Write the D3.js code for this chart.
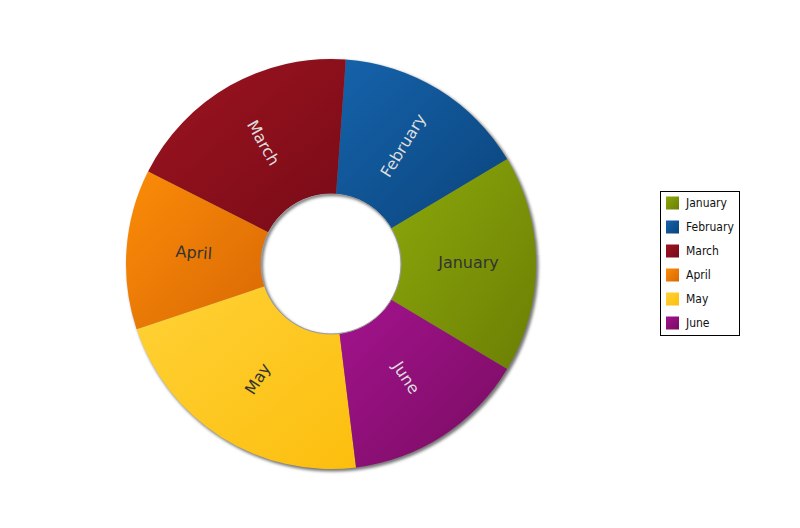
<!DOCTYPE html>
<html><head><meta charset="utf-8">
<script src="https://cdn.jsdelivr.net/npm/d3@7"></script>
<style>body{margin:0;background:#fff}svg{display:block}</style>
</head><body>
<svg id="c" width="800" height="528"></svg>
<script>
const categories = ["January","February","March","April","May","June"];
const values = [17.1, 15.3, 18.7, 12.6, 21.8, 14.5];
const colorsLight = ["#8ca80b","#1563ab","#9c1420","#fb8c07","#ffd236","#a3138e"];
const colorsDark  = ["#6b7f04","#0b447c","#780b17","#d96805","#fcbe0e","#780c60"];
const labelColors = ["#333","#ddd","#ddd","#333","#333","#ddd"];

const svg = d3.select("#c");
const cx = 331, cy = 264, rOut = 205, rIn = 70;
const defs = svg.append("defs");
categories.forEach((c,i)=>{
  const g = defs.append("linearGradient").attr("id","g"+i)
    .attr("x1","0").attr("y1","0").attr("x2","1").attr("y2","1");
  g.append("stop").attr("offset","0").attr("stop-color",colorsLight[i]);
  g.append("stop").attr("offset","1").attr("stop-color",colorsDark[i]);
});
const f = defs.append("filter").attr("id","sh").attr("x","-10%").attr("y","-10%").attr("width","120%").attr("height","120%");
f.append("feGaussianBlur").attr("stdDeviation",1.5);
const fi = defs.append("filter").attr("id","shi").attr("x","-20%").attr("y","-20%").attr("width","140%").attr("height","140%");
fi.append("feGaussianBlur").attr("stdDeviation",1.5);

const total = d3.sum(values);
const janSpan = values[0]/total*2*Math.PI;
const start = Math.PI/2 + janSpan/2;
const pie = d3.pie().sort(null).value(d=>d).startAngle(start).endAngle(start - 2*Math.PI);
const arcs = pie(values);
const arc = d3.arc().innerRadius(rIn).outerRadius(rOut);

const g = svg.append("g").attr("transform",`translate(${cx},${cy})`);
// outer shadow
g.append("circle").attr("cx",2).attr("cy",2).attr("r",rOut+0.5)
  .attr("fill","#777").attr("filter","url(#sh)");
g.selectAll("path.s").data(arcs).enter().append("path").attr("class","s")
  .attr("d",arc).attr("fill",(d,i)=>`url(#g${i})`);
// hole
g.append("circle").attr("r",rIn).attr("fill","#fff");
const clipId = "hc";
defs.append("clipPath").attr("id",clipId).append("circle").attr("r",rIn);
g.append("circle").attr("r",rIn+1.5).attr("cx",1.5).attr("cy",1.5).attr("fill","none")
  .attr("stroke","#777").attr("stroke-width",4).attr("filter","url(#shi)").attr("clip-path",`url(#${clipId})`);
g.append("circle").attr("r",rIn).attr("fill","none").attr("stroke","#999").attr("stroke-width",1);

// labels
g.selectAll("text.l").data(arcs).enter().append("text").attr("class","l")
  .attr("transform",d=>{
    const [x,y] = arc.centroid(d);
    const mid = (d.startAngle+d.endAngle)/2;
    let deg = ((mid*180/Math.PI) % 360 + 360) % 360 - 90;
    if (deg > 90) deg -= 180;
    if (deg < -90) deg += 180;
    return `translate(${x},${y-1.5}) rotate(${deg})`;
  })
  .attr("text-anchor","middle").attr("dominant-baseline","central")
  .attr("font-family","DejaVu Sans").attr("font-size",16)
  .attr("fill",(d,i)=>labelColors[i])
  .text((d,i)=>categories[i]);

// legend
const lg = svg.append("g");
lg.append("rect").attr("x",660.5).attr("y",191.5).attr("width",79).attr("height",144)
  .attr("fill","#fff").attr("stroke","#000").attr("stroke-width",1);
const ly = d3.scaleBand().domain(categories).range([191,335]);
categories.forEach((c,i)=>{
  const y = ly(c) + ly.bandwidth()/2;
  lg.append("rect").attr("x",666).attr("y",y-6.5).attr("width",13).attr("height",13)
    .attr("fill",`url(#g${i})`);
  lg.append("text").attr("x",686).attr("y",y).attr("dominant-baseline","central")
    .attr("font-family","DejaVu Sans Condensed, DejaVu Sans").attr("font-stretch","condensed")
    .attr("font-size",12).attr("fill","#111").text(c);
});
</script>
</body></html>
